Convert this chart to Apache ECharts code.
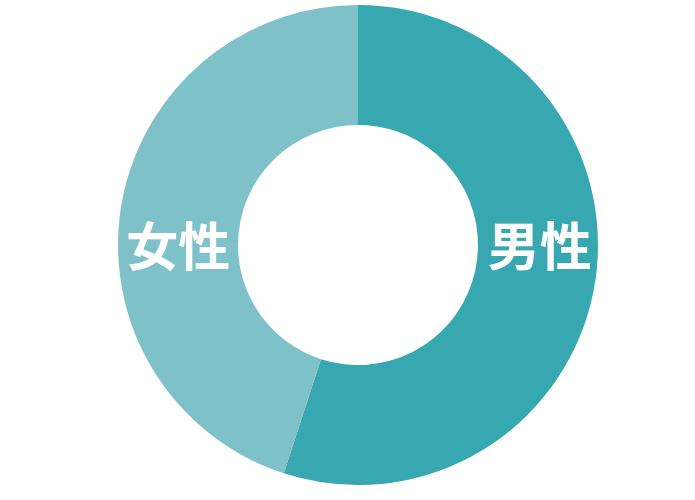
<!DOCTYPE html>
<html><head><meta charset="utf-8">
<script src="https://cdn.jsdelivr.net/npm/echarts@6/dist/echarts.min.js"></script>
<style>html,body{margin:0;padding:0;background:#fff}#c{width:695px;height:500px}</style>
</head><body><div id="c"></div>
<script>
const categories = ['男性', '女性'];
const values = [55, 45];
const colors = ['#37a8af', '#7fc1c8'];

const chart = echarts.init(document.getElementById('c'), null, {renderer: 'canvas'});
chart.setOption({
  animation: false,
  series: [{
    type: 'pie',
    center: [358, 245],
    radius: [120, 240],
    startAngle: 90,
    clockwise: true,
    silent: true,
    itemStyle: {borderWidth: 0},
    label: {
      show: true,
      position: 'inside',
      color: '#fff',
      fontSize: 52,
      fontWeight: 'bold',
      fontFamily: '"Noto Sans CJK JP", "Noto Sans CJK SC", sans-serif'
    },
    labelLine: {show: false},
    labelLayout: function (p) {
      return {y: 246, verticalAlign: 'middle', dx: p.dataIndex === 0 ? 1 : 1};
    },
    data: categories.map((n, i) => ({name: n, value: values[i], itemStyle: {color: colors[i]}}))
  }]
});
</script></body></html>
